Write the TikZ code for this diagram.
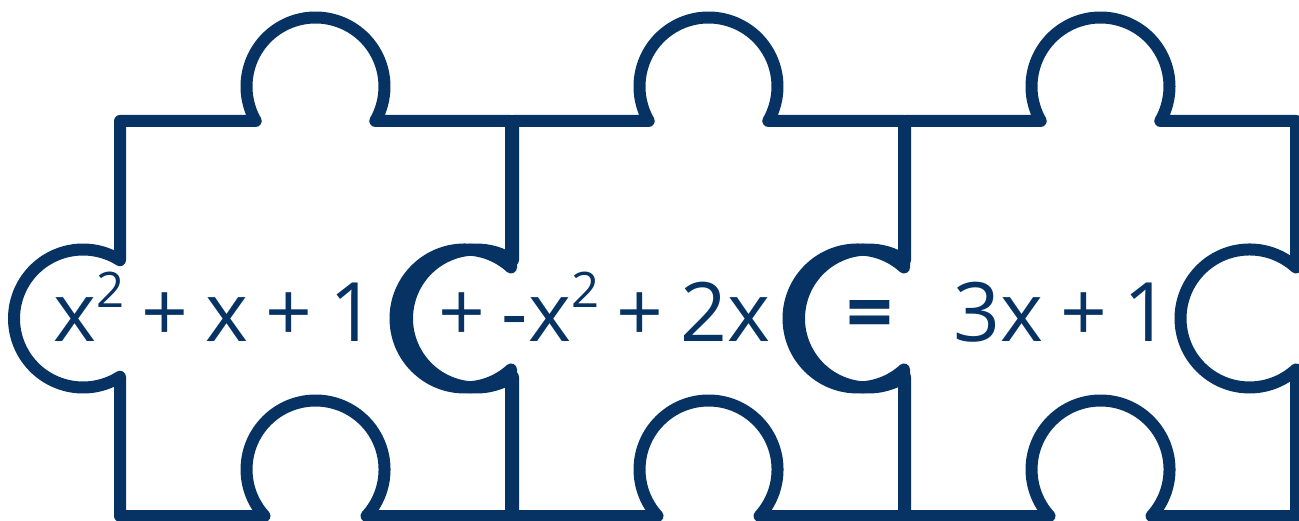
\documentclass[tikz,border=0pt]{standalone}
\usepackage{fontspec}
\setmainfont{Open Sans}
\definecolor{navy}{RGB}{6,51,99}
\newcommand{\labfont}{\fontsize{82}{98}\selectfont\spaceskip=17pt\relax}
\tikzset{
  piece/.style={draw=navy, line width=12pt, line join=round},
  lab/.style={text=navy, font=\labfont, inner sep=0pt, anchor=base}
}
\newcommand{\sqr}{\raisebox{35pt}{\fontsize{49}{49}\selectfont 2}}
\begin{document}
\begin{tikzpicture}[x=1pt,y=1pt]
\useasboundingbox (0,0) rectangle (1299,520);
\foreach \L in {120,513,905}{
  \pgfmathsetmacro\R{\L+391}
  \pgfmathsetmacro\cx{\L+195.5}
  \draw[piece] (\L,399) -- (\cx-59.76,399)
    arc[start angle=210,end angle=-30,radius=69]
    -- (\R,399) -- (\R,252.5)
    arc[start angle=47.63,end angle=312.37,radius=69]
    -- (\R,4) -- (\cx+51,4)
    arc[start angle=-42.37,end angle=222.37,radius=69]
    -- (\L,4) -- (\L,143.26)
    arc[start angle=-57.58,end angle=-302.42,radius=69]
    -- cycle;
}
\node[lab] (t1) at (215,178) {x\sqr{} + x + 1};
\node[lab] (t2) at (604,178) {+ -x\sqr{} + 2x};
\node[lab] (t3) at (870,178) {\bfseries =};
\node[lab] (t4) at (1062,178) {3x + 1};
\end{tikzpicture}
\end{document}
